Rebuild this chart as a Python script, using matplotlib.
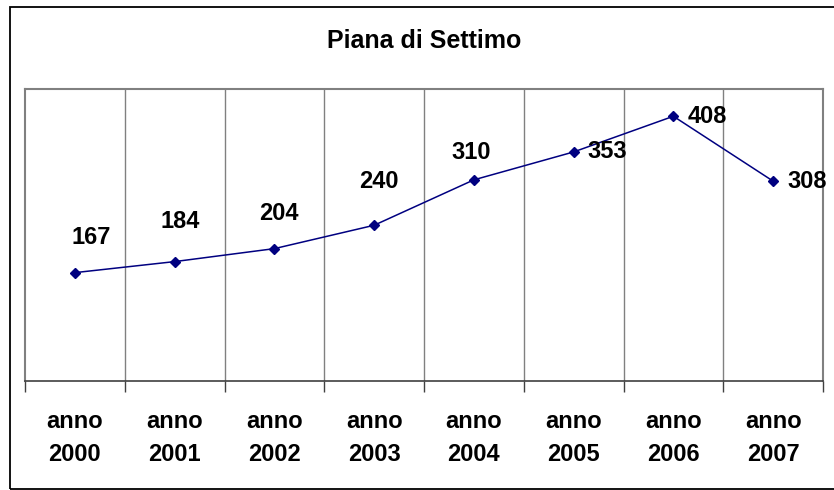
import matplotlib.pyplot as plt
from matplotlib.patches import Rectangle

plt.rcParams['font.family'] = ['Liberation Sans', 'DejaVu Sans']

TITLE = 'Piana di Settimo'
YEARS = ['2000', '2001', '2002', '2003', '2004', '2005', '2006', '2007']
VALUES = [167, 184, 204, 240, 310, 353, 408, 308]

# label offsets in pixels from each point (as placed in the original sheet)
LABEL_OFFSETS = [(16, 35), (6, 40), (5, 35), (5, 44), (-3, 27), (34, 0), (34, 0), (34, 0)]

W, H = 834, 490


def px(x, y):
    # pixel coords (top-left origin) -> figure fraction
    return x / W, 1 - y / H


fig = plt.figure(figsize=(W / 100, H / 100), dpi=100)

# outer chart border (right side runs off the picture)
fig.patches.append(Rectangle(px(9.5, 489), (900 - 9.5) / W, (489 - 7) / H,
                             transform=fig.transFigure, fill=False,
                             edgecolor='black', linewidth=1.3))

left, top = px(25, 89)
right, bottom = px(823, 381)
ax = fig.add_axes([left, bottom, right - left, top - bottom])

x = list(range(len(YEARS)))
ax.plot(x, VALUES, color='#000080', linewidth=1.1, marker='D',
        markersize=5, zorder=3)

for xi, v, (dx, dy) in zip(x, VALUES, LABEL_OFFSETS):
    ax.annotate(str(v), (xi, v), xytext=(dx, dy), textcoords='offset pixels',
                ha='center', va='center', fontsize=17, fontweight='bold')

ax.set_xlim(-0.5, len(YEARS) - 0.5)
ax.set_ylim(0, 450)
ax.set_yticks([])

# boundaries between categories: gridlines and ticks
bounds = [i - 0.5 for i in range(len(YEARS) + 1)]
ax.set_xticks(bounds)
ax.set_xticklabels([])
ax.tick_params(axis='x', which='major', length=8, width=1, color='#404040',
               direction='out')
for b in bounds[1:-1]:
    ax.axvline(b, color='#808080', linewidth=1, zorder=1)

ax.set_xticks(x, ['anno\n' + y for y in YEARS], minor=True)
ax.tick_params(axis='x', which='minor', length=0, pad=21, labelsize=17)
for lab in ax.get_xticklabels(minor=True):
    lab.set_fontweight('bold')
    lab.set_linespacing(1.55)

for s in ['top', 'right', 'left']:
    ax.spines[s].set_color('#808080')
    ax.spines[s].set_linewidth(1.5)
ax.spines['bottom'].set_color('#404040')
ax.spines['bottom'].set_linewidth(1.2)

tx, ty = px(424, 48)
fig.text(tx, ty, TITLE, ha='center', va='baseline', fontsize=18,
         fontweight='bold')

fig.savefig('out.png', dpi=100)
